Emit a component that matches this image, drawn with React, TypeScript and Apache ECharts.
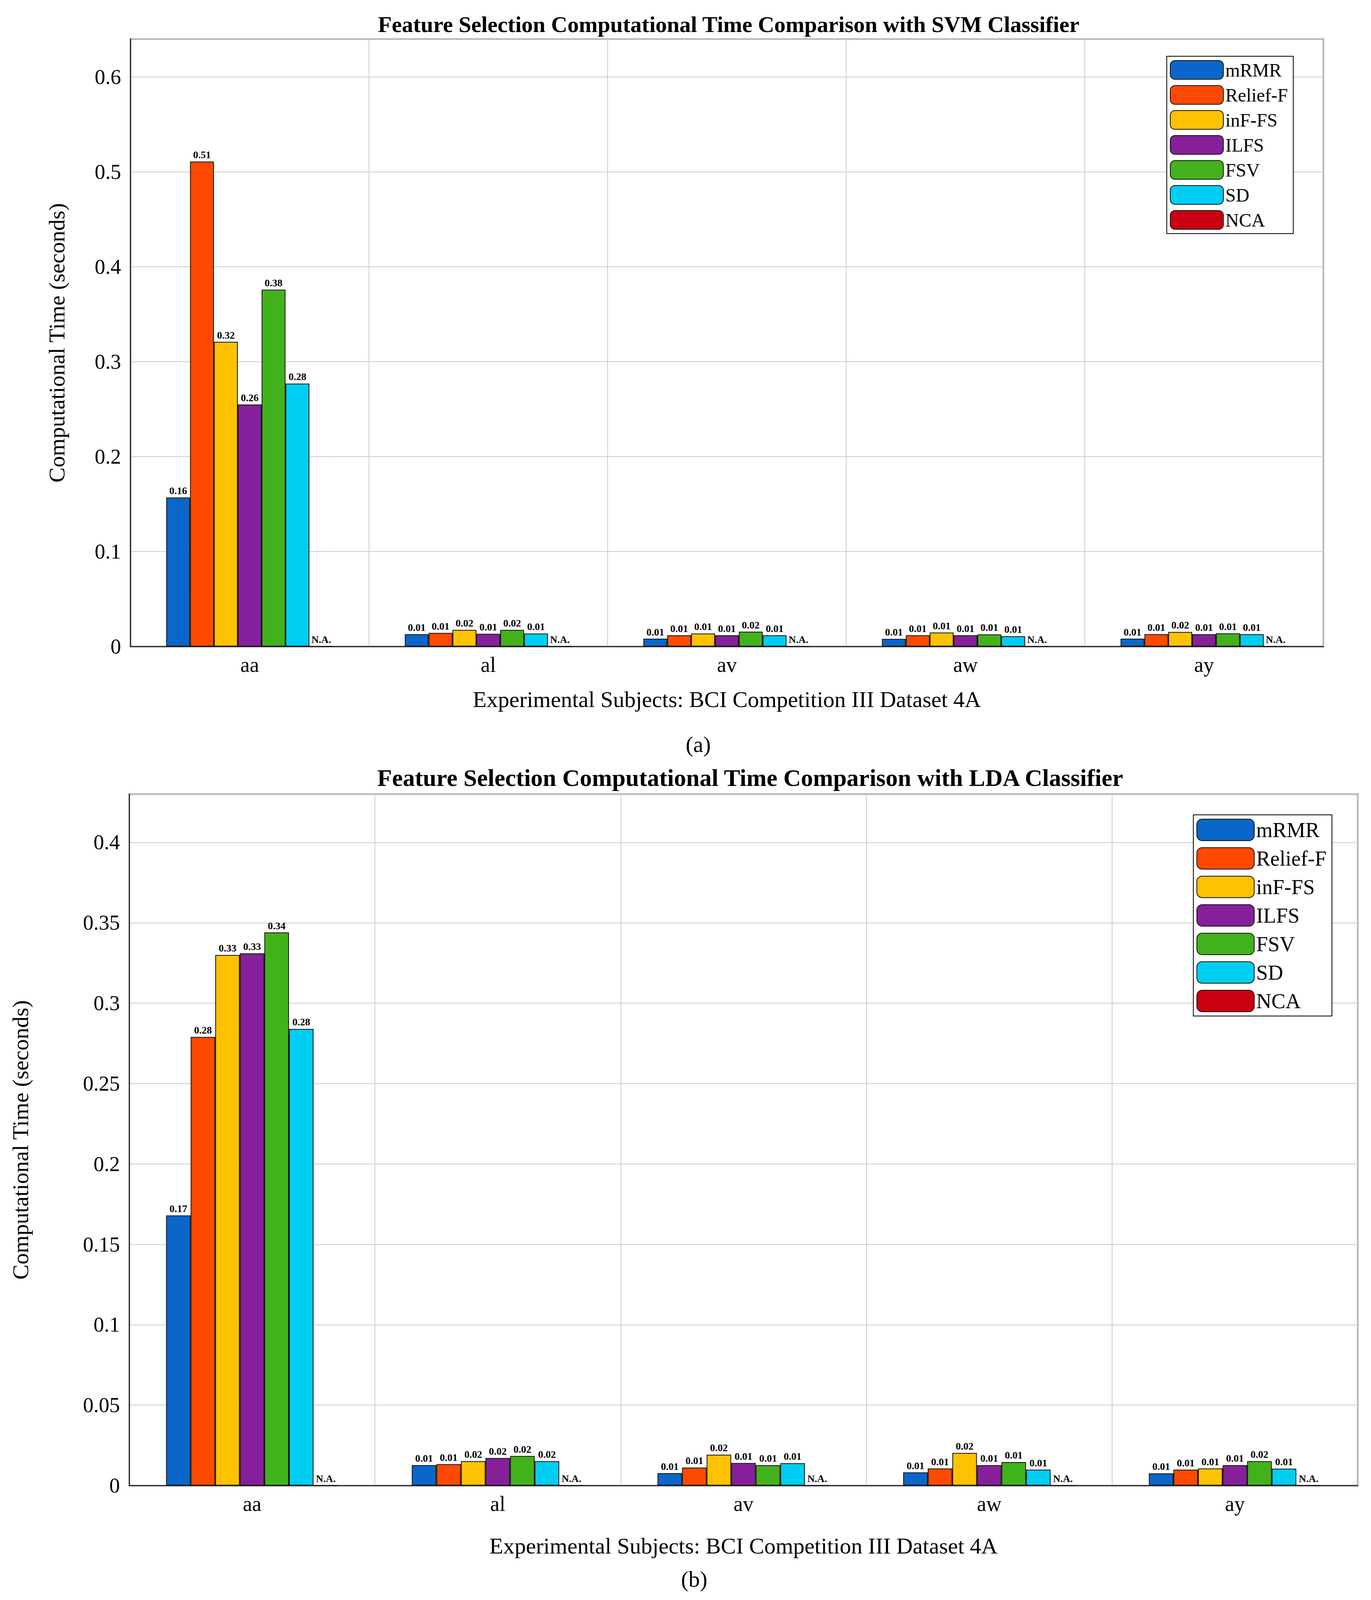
import { useEffect, useRef } from "react";
import * as echarts from "echarts";

const subjects = ["aa", "al", "av", "aw", "ay"];
const methods = ["mRMR", "Relief-F", "inF-FS", "ILFS", "FSV", "SD", "NCA"];
const colors = ["#0a66c8", "#ff4a00", "#ffc200", "#85209a", "#42b21c", "#00cdf2", "#c8000f"];

// SVM classifier, per method over subjects aa, al, av, aw, ay
const svmMRMR = [0.157, 0.013, 0.0082, 0.008, 0.0082];
const svmRelief = [0.511, 0.0143, 0.0118, 0.0118, 0.013];
const svmInf = [0.321, 0.0175, 0.0137, 0.0147, 0.0153];
const svmILFS = [0.255, 0.0134, 0.0118, 0.0118, 0.013];
const svmFSV = [0.376, 0.0175, 0.0156, 0.0128, 0.0139];
const svmSD = [0.277, 0.0137, 0.0118, 0.0108, 0.013];
const svmNCA = [0, 0, 0, 0, 0];

// LDA classifier
const ldaMRMR = [0.168, 0.0127, 0.0077, 0.0082, 0.0076];
const ldaRelief = [0.279, 0.0133, 0.0112, 0.0106, 0.0099];
const ldaInf = [0.33, 0.0152, 0.0192, 0.0203, 0.0106];
const ldaILFS = [0.331, 0.0171, 0.014, 0.0127, 0.0127];
const ldaFSV = [0.344, 0.0184, 0.0127, 0.0146, 0.0152];
const ldaSD = [0.284, 0.0152, 0.0139, 0.0099, 0.0105];
const ldaNCA = [0, 0, 0, 0, 0];

const svmSets = [svmMRMR, svmRelief, svmInf, svmILFS, svmFSV, svmSD, svmNCA];
const ldaSets = [ldaMRMR, ldaRelief, ldaInf, ldaILFS, ldaFSV, ldaSD, ldaNCA];

const font = "Liberation Serif";

export default function App() {
  const ref = useRef<HTMLDivElement | null>(null);
  const H = Math.min(4411, (typeof window !== "undefined" ? window.innerHeight : 4427) - 16);
  const k = H / 4411;

  useEffect(() => {
    if (!ref.current) return;
    const chart = echarts.init(ref.current, undefined, { renderer: "svg" });
    const v = (n: number) => Math.round(n * k);

    const makeSeries = (sets: number[][], idx: number) =>
      sets.map((vals, i) => ({
        name: methods[i],
        type: "bar",
        xAxisIndex: idx,
        yAxisIndex: idx,
        barGap: "0%",
        barCategoryGap: "30%",
        data: vals,
        itemStyle: { color: colors[i], borderColor: "#111", borderWidth: 2 },
        label: {
          show: true,
          position: "top",
          distance: 4,
          fontFamily: font,
          fontWeight: "bold",
          fontSize: 26,
          color: "#000",
          formatter: (p: any) => (i === 6 ? "N.A." : p.value.toFixed(2)),
        },
      }));

    const xAxis = (idx: number, gap: number) => ({
      type: "category",
      gridIndex: idx,
      data: subjects,
      name: "Experimental Subjects: BCI Competition III Dataset 4A",
      nameLocation: "middle",
      nameGap: gap,
      nameTextStyle: { fontFamily: font, fontSize: 58, color: "#000" },
      axisLine: { lineStyle: { color: "#333", width: 3 } },
      axisTick: { show: false, alignWithLabel: true },
      axisLabel: { fontFamily: font, fontSize: 54, color: "#000", margin: 20 },
      splitLine: { show: true, lineStyle: { color: "#ccc", width: 2 } },
    });

    const yAxis = (idx: number, max: number, interval: number, gap: number) => ({
      type: "value",
      gridIndex: idx,
      min: 0,
      max,
      interval,
      name: "Computational Time (seconds)",
      nameLocation: "middle",
      nameGap: gap,
      nameTextStyle: { fontFamily: font, fontSize: 58, color: "#000" },
      axisLine: { show: true, lineStyle: { color: "#333", width: 3 } },
      axisTick: { show: false },
      axisLabel: { fontFamily: font, fontSize: 54, color: "#000", showMaxLabel: false, margin: 24 },
      splitLine: { show: true, lineStyle: { color: "#ccc", width: 2 } },
    });

    const legend = (left: number, top: number, gap: number, fs: number, w: number, h: number) => ({
      data: methods,
      orient: "vertical",
      left,
      top,
      itemGap: gap,
      itemWidth: w,
      itemHeight: h,
      backgroundColor: "#fff",
      borderColor: "#000",
      borderWidth: 2,
      borderRadius: 0,
      padding: [10, 14, 10, 8],
      textStyle: { fontFamily: font, fontSize: fs, color: "#000" },
      itemStyle: { borderColor: "#111", borderWidth: 2 },
      selectedMode: false,
    });

    chart.setOption({
      animation: false,
      backgroundColor: "#fff",
      title: [
        {
          text: "Feature Selection Computational Time Comparison with SVM Classifier",
          left: 1853,
          textAlign: "center",
          top: v(22),
          textStyle: { fontFamily: font, fontSize: 58, fontWeight: "bold", color: "#000" },
        },
        {
          text: "Feature Selection Computational Time Comparison with LDA Classifier",
          left: 1908,
          textAlign: "center",
          top: v(2105),
          textStyle: { fontFamily: font, fontSize: 62, fontWeight: "bold", color: "#000" },
        },
      ],
      grid: [
        { left: 326, top: v(100), width: 3055, height: v(1681), show: true, borderColor: "#333", borderWidth: 3 },
        { left: 323, top: v(2189), width: 3146, height: v(1914), show: true, borderColor: "#333", borderWidth: 3 },
      ],
      legend: [
        legend(2980, v(147), 14, 48, 136, 48),
        legend(3048, v(2247), 16, 54, 147, 55),
      ],
      xAxis: [xAxis(0, v(115)), xAxis(1, v(135))],
      yAxis: [yAxis(0, 0.64, 0.1, 160), yAxis(1, 0.43, 0.05, 250)],
      series: [...makeSeries(svmSets, 0), ...makeSeries(ldaSets, 1)],
      graphic: [
        { type: "text", left: 1748, top: v(2020), style: { text: "(a)", font: `58px "${font}"`, fill: "#000" } },
        { type: "text", left: 1736, top: v(4330), style: { text: "(b)", font: `58px "${font}"`, fill: "#000" } },
      ],
    });

    return () => chart.dispose();
  }, []);

  return <div ref={ref} style={{ width: 3495, height: H }} />;
}
